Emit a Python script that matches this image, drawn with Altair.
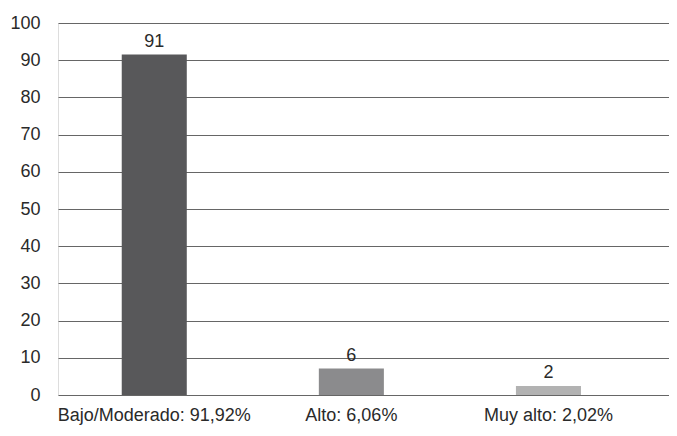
import altair as alt
import pandas as pd

categories = ["Bajo/Moderado: 91,92%", "Alto: 6,06%", "Muy alto: 2,02%"]
values = [91.5, 7.1, 2.4]
labels = ["91", "6", "2"]
colors = ["#58585a", "#8b8b8d", "#b2b2b2"]

df = pd.DataFrame({"cat": categories, "val": values, "lab": labels, "col": colors})

FONT = "Liberation Sans"
FS = 18

x = alt.X("cat:N", sort=categories, title=None,
          scale=alt.Scale(paddingInner=0.67, paddingOuter=0.385, align=0.42),
          axis=alt.Axis(labelAngle=0, domain=False, ticks=False, labelPadding=11,
                        labelFontSize=FS, labelColor="#2a2a2a", labelFont=FONT,
                        labelOverlap=False, labelLimit=0))
y = alt.Y("val:Q", title=None,
          scale=alt.Scale(domain=[0, 100], nice=False),
          axis=alt.Axis(values=list(range(0, 101, 10)), tickCount=11, domain=False,
                        ticks=False, labelPadding=18, labelFontSize=FS,
                        labelColor="#2a2a2a", labelFont=FONT, labelOverlap=False,
                        labelBound=False, grid=True, gridColor="#666666",
                        gridWidth=1, gridOpacity=1))

base = alt.Chart(df).encode(x=x, y=y)

bars = base.mark_bar().encode(
    color=alt.Color("col:N", scale=None, legend=None)
)
text = base.mark_text(baseline="bottom", dy=-4, fontSize=FS, font=FONT,
                      color="#2a2a2a").encode(text="lab:N")

chart = (bars + text).properties(
    width=611, height=372,
    autosize=alt.AutoSizeParams(type="none"),
    padding={"left": 50, "top": 15, "right": 0, "bottom": 33},
).configure_view(stroke=None).configure(background="white")

chart.save("out.html", embed_options={"renderer": "svg", "actions": False})
